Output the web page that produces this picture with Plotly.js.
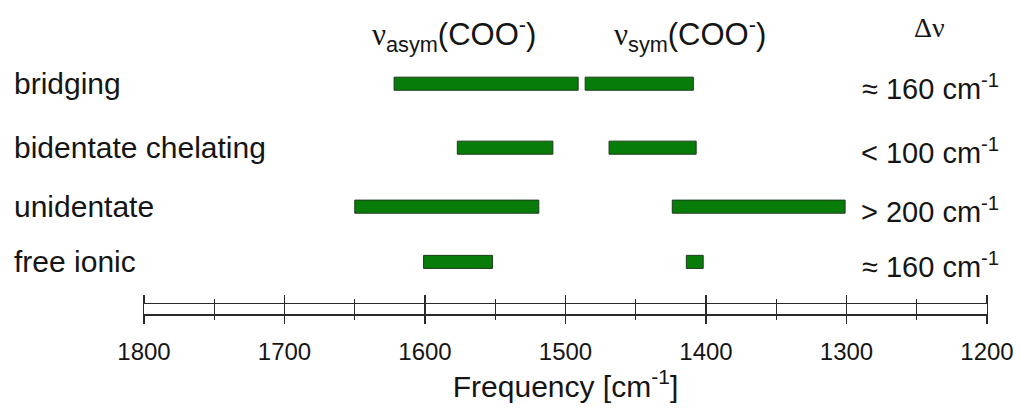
<!DOCTYPE html>
<html>
<head>
<meta charset="utf-8">
<script src="https://cdn.plot.ly/plotly-3.0.1.min.js"></script>
<style>html,body{margin:0;padding:0;background:#fff;}#chart{width:1021px;height:409px;}</style>
</head>
<body>
<div id="chart"></div>
<script>
// ---- data ----
const categories = ['bridging', 'bidentate chelating', 'unidentate', 'free ionic'];
const asymHigh = [1622, 1577, 1650, 1601];
const asymLow  = [1491, 1509, 1519, 1552];
const symHigh  = [1486, 1469, 1424, 1414];
const symLow   = [1409, 1407, 1301, 1402];
const deltaLabels = ['≈ 160 cm<sup>-1</sup>', '< 100 cm<sup>-1</sup>', '> 200 cm<sup>-1</sup>', '≈ 160 cm<sup>-1</sup>'];
const xTickVals = [1800, 1700, 1600, 1500, 1400, 1300, 1200];
const headers = ['ν', 'asym', 'sym'];

// ---- layout helpers (row positions, not data) ----
const rowPos = [0, 1.077, 2.07, 3.0];
const H = 409;
const py = p => 1 - p / H;
const FONT = 'Liberation Sans, Arial, sans-serif';
const SERIF = 'Liberation Serif, Times New Roman, serif';
const INK = '#151515';
const LINE = '#2a2a2a';

function lenArr(hi, lo) { return hi.map((h, i) => h - lo[i]); }

const barStyle = {color: '#087c08', line: {color: '#1d3b1d', width: 1}};
const traces = [
  {type: 'bar', orientation: 'h', y: rowPos, base: asymLow, x: lenArr(asymHigh, asymLow),
   width: 0.22, marker: barStyle, xaxis: 'x', yaxis: 'y', hoverinfo: 'skip', showlegend: false},
  {type: 'bar', orientation: 'h', y: rowPos, base: symLow, x: lenArr(symHigh, symLow),
   width: 0.22, marker: barStyle, xaxis: 'x', yaxis: 'y', hoverinfo: 'skip', showlegend: false},
  {type: 'scatter', x: [], y: [], xaxis: 'x2', yaxis: 'y2', showlegend: false, hoverinfo: 'skip'}
];

const annotations = [];
categories.forEach((c, i) => {
  annotations.push({text: c, xref: 'paper', yref: 'y', x: -0.157, y: rowPos[i], xanchor: 'left', yanchor: 'middle',
    showarrow: false, font: {family: FONT, size: 30, color: INK}});
  annotations.push({text: deltaLabels[i], xref: 'paper', yref: 'y', x: 1.0166, y: rowPos[i] + 0.06, xanchor: 'right', yanchor: 'middle',
    showarrow: false, font: {family: FONT, size: 29, color: INK}});
});
const nu = '<span style="font-family:Liberation Serif, Times New Roman, serif">' + headers[0] + '</span>';
annotations.push({text: nu + '<sub>' + headers[1] + '</sub>(COO<sup>-</sup>)', xref: 'paper', yref: 'paper',
  x: 0.368, y: py(34), xanchor: 'center', yanchor: 'middle', showarrow: false, font: {family: FONT, size: 31, color: INK}});
annotations.push({text: nu + '<sub>' + headers[2] + '</sub>(COO<sup>-</sup>)', xref: 'paper', yref: 'paper',
  x: 0.648, y: py(34), xanchor: 'center', yanchor: 'middle', showarrow: false, font: {family: FONT, size: 31, color: INK}});
annotations.push({text: 'Δν', xref: 'paper', yref: 'paper', x: 0.932, y: py(27), xanchor: 'center', yanchor: 'middle',
  showarrow: false, font: {family: SERIF, size: 28, color: INK}});

const pxPerUnit = 59.4;
const topPx = 60, botPx = 290;
const vTop = -(83.7 - topPx) / pxPerUnit;
const vBot = (botPx - 83.7) / pxPerUnit;

const layout = {
  width: 1021, height: 409,
  margin: {l: 144, r: 34, t: 0, b: 0},
  paper_bgcolor: '#fff', plot_bgcolor: 'rgba(0,0,0,0)',
  showlegend: false, barmode: 'overlay',
  xaxis: {range: [1800, 1200], visible: false, anchor: 'y', fixedrange: true},
  yaxis: {domain: [py(botPx), py(topPx)], range: [vBot, vTop], visible: false, fixedrange: true},
  xaxis2: {
    range: [1800, 1200], anchor: 'y2', tickmode: 'array', tickvals: xTickVals,
    showline: true, linecolor: LINE, linewidth: 1.3, mirror: 'allticks',
    ticks: 'outside', ticklen: 8, tickwidth: 1.2, tickcolor: LINE,
    showgrid: true, gridcolor: LINE, gridwidth: 1.2, zeroline: false,
    minor: {dtick: 50, tick0: 1800, ticks: 'outside', ticklen: 4, tickwidth: 1, tickcolor: LINE, showgrid: true, gridcolor: LINE, gridwidth: 1},
    tickfont: {family: FONT, size: 24, color: INK}, ticklabelstandoff: 8,
    title: {text: 'Frequency [cm<sup>-1</sup>]', font: {family: FONT, size: 30, color: INK}, standoff: 4},
    automargin: false, fixedrange: true
  },
  yaxis2: {domain: [py(314.3), py(304.3)], range: [0, 1], anchor: 'x2', showticklabels: false, showgrid: false,
    zeroline: false, showline: true, mirror: true, linecolor: LINE, linewidth: 1.2, ticks: '', fixedrange: true},
  annotations: annotations
};

Plotly.newPlot('chart', traces, layout, {staticPlot: true, displayModeBar: false});
</script>
</body>
</html>
